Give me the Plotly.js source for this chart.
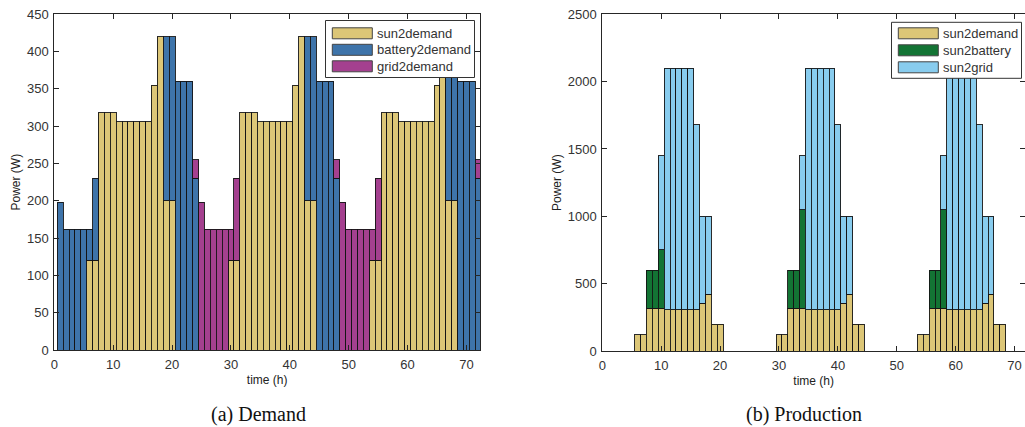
<!DOCTYPE html>
<html><head><meta charset="utf-8">
<script src="https://cdn.plot.ly/plotly-3.0.1.min.js"></script>
<style>html,body{margin:0;padding:0;background:#fff;overflow:hidden}#chart{width:1025px;height:427px}</style>
</head><body><div id="chart"></div>
<script>
// ---------- DATA ----------
const hours = [1,2,3,4,5,6,7,8,9,10,11,12,13,14,15,16,17,18,19,20,21,22,23,24,
  25,26,27,28,29,30,31,32,33,34,35,36,37,38,39,40,41,42,43,44,45,46,47,48,
  49,50,51,52,53,54,55,56,57,58,59,60,61,62,63,64,65,66,67,68,69,70,71,72];

// Demand panel (W)
const sun2demand = [0,0,0,0,0,120,120,318,318,318,306,306,306,306,306,306,355,420,200,200,0,0,0,0,
  0,0,0,0,0,120,120,318,318,318,306,306,306,306,306,306,355,420,200,200,0,0,0,0,
  0,0,0,0,0,120,120,318,318,318,306,306,306,306,306,306,355,420,200,200,0,0,0,0];
const battery2demand = [198,162,162,162,162,42,110,0,0,0,0,0,0,0,0,0,0,0,220,220,360,360,360,230,
  0,0,0,0,0,0,0,0,0,0,0,0,0,0,0,0,0,0,220,220,360,360,360,230,
  0,0,0,0,0,0,0,0,0,0,0,0,0,0,0,0,0,0,220,220,360,360,360,230];
const grid2demand = [0,0,0,0,0,0,0,0,0,0,0,0,0,0,0,0,0,0,0,0,0,0,0,25,
  198,162,162,162,162,42,110,0,0,0,0,0,0,0,0,0,0,0,0,0,0,0,0,25,
  198,162,162,162,162,42,110,0,0,0,0,0,0,0,0,0,0,0,0,0,0,0,0,25];

// Production panel (W)
const sun2demandProd = sun2demand;
const sun2battery = [0,0,0,0,0,0,0,282,282,432,0,0,0,0,0,0,0,0,0,0,0,0,0,0,
  0,0,0,0,0,0,0,282,282,732,0,0,0,0,0,0,0,0,0,0,0,0,0,0,
  0,0,0,0,0,0,0,282,282,732,0,0,0,0,0,0,0,0,0,0,0,0,0,0];
const sun2grid = [0,0,0,0,0,0,0,0,0,700,1794,1794,1794,1794,1794,1374,645,580,0,0,0,0,0,0,
  0,0,0,0,0,0,0,0,0,400,1794,1794,1794,1794,1794,1374,645,580,0,0,0,0,0,0,
  0,0,0,0,0,0,0,0,0,400,1794,1794,1794,1794,1794,1374,645,580,0,0,0,0,0,0];

const demandNames = ['sun2demand','battery2demand','grid2demand'];
const prodNames = ['sun2demand','sun2battery','sun2grid'];
const xTicks = [0,10,20,30,40,50,60,70];
const yTicksDemand = [0,50,100,150,200,250,300,350,400,450];
const yTicksProd = [0,500,1000,1500,2000,2500];
const captions = ['(a) Demand','(b) Production'];
const axisTitles = {x:'time (h)', y:'Power (W)'};

// ---------- STYLE ----------
const C = {sun:'#dcc677', bat:'#3e74aa', grid:'#a4408f', sbat:'#137434', sgrid:'#88ccee'};
const edge = {color:'rgba(20,20,20,0.9)', width:1};
const W=1025, H=427;
const px = x => x/W, py = y => 1 - y/H;
const nz = a => a.map(v => v === 0 ? null : v);

function bar(y, name, color, xa, ya){
  return {type:'bar', x:hours, y:nz(y), name:name, xaxis:xa, yaxis:ya, width:1,
    marker:{color:color, line:edge}, hoverinfo:'x+y+name'};
}
const traces = [
  bar(sun2demand, demandNames[0], C.sun, 'x', 'y'),
  bar(battery2demand, demandNames[1], C.bat, 'x', 'y'),
  bar(grid2demand, demandNames[2], C.grid, 'x', 'y'),
  bar(sun2demandProd, prodNames[0], C.sun, 'x2', 'y2'),
  bar(sun2battery, prodNames[1], C.sbat, 'x2', 'y2'),
  bar(sun2grid, prodNames[2], C.sgrid, 'x2', 'y2')
];

const tickFont = {family:'Liberation Sans, Arial, Helvetica, sans-serif', size:13, color:'#333'};
const titleFont = {family:'Liberation Sans, Arial, Helvetica, sans-serif', size:12, color:'#222'};
function xax(domain, range, anchor){
  return {domain:domain, range:range, anchor:anchor, tickvals:xTicks, ticks:'inside', ticklen:5,
    tickcolor:'#262626', mirror:'ticks', showline:true, linecolor:'#262626', linewidth:1,
    showgrid:false, zeroline:false, tickfont:tickFont, ticklabelstandoff:2,
    title:{text:axisTitles.x, font:titleFont, standoff:5}, fixedrange:true};
}
function yax(domain, range, anchor, ticks){
  return {domain:domain, range:range, anchor:anchor, tickvals:ticks, ticks:'inside', ticklen:5,
    tickcolor:'#262626', mirror:'ticks', showline:true, linecolor:'#262626', linewidth:1,
    showgrid:false, zeroline:false, tickfont:tickFont, ticklabelstandoff:2,
    title:{text:axisTitles.y, font:titleFont, standoff:3}, fixedrange:true};
}

// custom MATLAB-style legends
const shapes = [], annotations = [];
function legend(box, swX, rows, names, colors, textX){
  shapes.push({type:'rect', xref:'paper', yref:'paper', x0:px(box[0]), x1:px(box[1]), y0:py(box[3]), y1:py(box[2]),
    line:{color:'#333', width:1}, fillcolor:'#fff', layer:'above'});
  names.forEach((n,i)=>{
    shapes.push({type:'rect', xref:'paper', yref:'paper', x0:px(swX[0]), x1:px(swX[1]),
      y0:py(rows[i]+5.5), y1:py(rows[i]-5.5), line:{color:'#444', width:1}, fillcolor:colors[i], layer:'above'});
    annotations.push({xref:'paper', yref:'paper', x:px(textX), y:py(rows[i]), xanchor:'left', yanchor:'middle',
      text:n, showarrow:false, font:{family:tickFont.family, size:13, color:'#333'}});
  });
}
legend([325.5,474.5,20.5,77.5],[332.3,372.3],[33.3,49.8,66.3],demandNames,[C.sun,C.bat,C.grid],375);
legend([891.5,1021.5,22.3,78.3],[898.3,938.3],[33.3,50.3,67.3],prodNames,[C.sun,C.sbat,C.sgrid],941);

const capFont = {family:'Liberation Serif, Times New Roman, serif', size:20, color:'#111'};
annotations.push({xref:'paper', yref:'paper', x:px(258), y:py(414), xanchor:'center', yanchor:'middle',
  text:captions[0], showarrow:false, font:capFont});
annotations.push({xref:'paper', yref:'paper', x:px(804), y:py(414), xanchor:'center', yanchor:'middle',
  text:captions[1], showarrow:false, font:capFont});

const layout = {
  width:W, height:H, margin:{l:0,r:0,t:0,b:0}, paper_bgcolor:'#fff', plot_bgcolor:'#fff',
  barmode:'stack', bargap:0, showlegend:false,
  font:tickFont,
  xaxis: xax([px(54.3), px(480)], [0, 72.3], 'y'),
  yaxis: yax([py(350), py(14.3)], [0, 450], 'x', yTicksDemand),
  xaxis2: xax([px(602.3), 1], [0, 71.77], 'y2'),
  yaxis2: yax([py(351), py(14.3)], [0, 2500], 'x2', yTicksProd),
  shapes: shapes, annotations: annotations
};
Plotly.newPlot('chart', traces, layout, {staticPlot:true, displayModeBar:false});
</script></body></html>
